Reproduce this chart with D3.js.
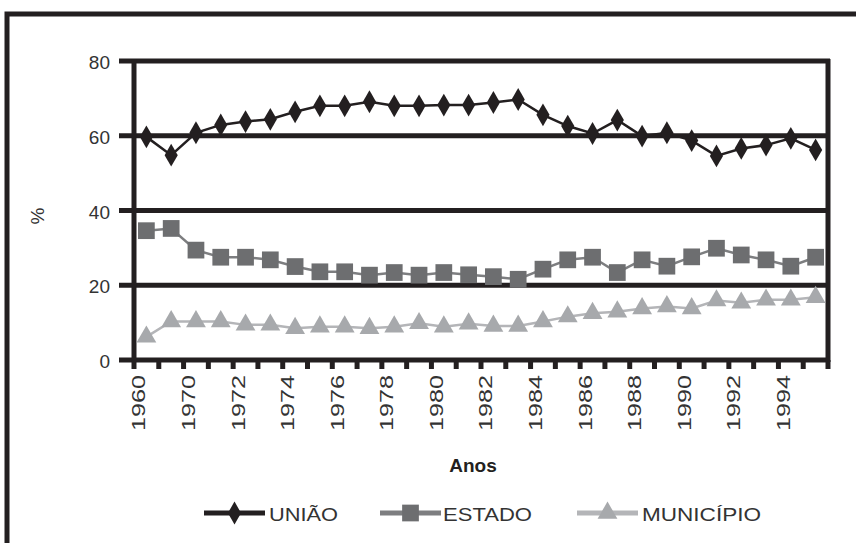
<!DOCTYPE html>
<html>
<head>
<meta charset="utf-8">
<script src="https://cdn.jsdelivr.net/npm/d3@7"></script>
<style>
  html, body { margin: 0; padding: 0; background: #fff; }
  svg { display: block; font-family: "Liberation Sans", Arial, sans-serif; }
</style>
</head>
<body>
<svg id="chart" width="856" height="543"></svg>
<script>
// Participação na receita tributária (%), por esfera de governo
const years = ["1960", "1965", "1970", "1971", "1972", "1973", "1974", "1975", "1976", "1977",
  "1978", "1979", "1980", "1981", "1982", "1983", "1984", "1985", "1986", "1987",
  "1988", "1989", "1990", "1991", "1992", "1993", "1994", "1995"];
const uniao = [59.7, 54.8, 60.8, 62.9, 63.8, 64.4, 66.4, 68.0, 68.0, 69.1,
  68.0, 68.0, 68.2, 68.2, 68.9, 69.7, 65.6, 62.6, 60.6, 64.2,
  59.9, 60.8, 58.7, 54.6, 56.6, 57.5, 59.3, 56.2];
const estado = [34.6, 35.2, 29.4, 27.5, 27.5, 26.8, 25.0, 23.6, 23.6, 22.7,
  23.4, 22.7, 23.4, 22.8, 22.3, 21.6, 24.3, 26.8, 27.5, 23.4,
  26.8, 25.1, 27.6, 29.9, 28.1, 26.8, 25.1, 27.5];
const municipio = [6.2, 10.3, 10.3, 10.3, 9.4, 9.4, 8.5, 8.9, 8.9, 8.5,
  8.9, 9.8, 8.9, 9.7, 9.1, 9.1, 10.3, 11.6, 12.5, 12.9,
  13.8, 14.3, 13.8, 15.9, 15.3, 16.1, 16.1, 16.8];
const yTicks = [0, 20, 40, 60, 80];
const seriesNames = ["UNIÃO", "ESTADO", "MUNICÍPIO"];

const ink = "#231f20";
const series = [
  { name: seriesNames[0], values: uniao, line: ink, fill: ink, symbol: d3.symbolDiamond, size: 150, lw: 2.5 },
  { name: seriesNames[1], values: estado, line: "#7d7e80", fill: "#6d6e70", symbol: d3.symbolSquare, size: 280, lw: 2.5 },
  { name: seriesNames[2], values: municipio, line: "#b4b5b8", fill: "#a7a9ac", symbol: d3.symbolTriangle, size: 170, lw: 2.5 }
];

const svg = d3.select("#chart");
const plotL = 134, plotR = 828, plotT = 61, plotB = 360;

const x = d3.scaleBand().domain(years).range([plotL, plotR]).paddingInner(0).paddingOuter(0);
const y = d3.scaleLinear().domain([0, 80]).range([plotB, plotT]);

// outer frame
svg.append("path")
  .attr("d", `M7,543 V14 H856`)
  .attr("fill", "none").attr("stroke", ink).attr("stroke-width", 5);

// horizontal grid lines with outward ticks
svg.append("g").selectAll("line").data(yTicks).join("line")
  .attr("x1", plotL - 15).attr("x2", plotR + 2)
  .attr("y1", d => y(d)).attr("y2", d => y(d))
  .attr("stroke", ink).attr("stroke-width", 5);

// left axis & right border
svg.append("line").attr("x1", plotL).attr("x2", plotL).attr("y1", plotT - 2).attr("y2", plotB + 2)
  .attr("stroke", ink).attr("stroke-width", 5);
svg.append("line").attr("x1", plotR).attr("x2", plotR).attr("y1", plotT - 2).attr("y2", plotB + 2)
  .attr("stroke", ink).attr("stroke-width", 5);

// y tick labels
const yAxis = d3.axisLeft(y).tickValues(yTicks).tickSize(0).tickPadding(0);
const gy = svg.append("g").attr("transform", `translate(${plotL - 24},0)`).call(yAxis);
gy.select(".domain").remove();
gy.selectAll("text").attr("font-size", 19).attr("fill", "#333").attr("dy", "0.4em")
  .attr("font-family", "Liberation Sans, Arial, sans-serif");

// x tick marks at band boundaries
const bounds = years.map(d => x(d)).concat([plotR]);
svg.append("g").selectAll("line").data(bounds).join("line")
  .attr("x1", d => d).attr("x2", d => d)
  .attr("y1", plotB).attr("y2", plotB + 9)
  .attr("stroke", ink).attr("stroke-width", 5);

// x labels (every other year), rotated
const xAxis = d3.axisBottom(x).tickSize(0).tickPadding(0)
  .tickFormat((d, i) => (i % 2 === 0 ? d : ""));
const gx = svg.append("g").attr("transform", `translate(0,${plotB + 15})`).call(xAxis);
gx.select(".domain").remove();
gx.selectAll("text")
  .attr("font-size", 19).attr("fill", "#333")
  .attr("font-family", "Liberation Sans, Arial, sans-serif")
  .attr("text-anchor", "end")
  .attr("transform", "rotate(-90)")
  .attr("x", 0).attr("y", 0).attr("dx", 0).attr("dy", "-0.05em")
  .each(function () { if (this.textContent) d3.select(this).attr("textLength", 56).attr("lengthAdjust", "spacingAndGlyphs"); });

// axis titles
svg.append("text").attr("transform", `translate(44,216) rotate(-90)`)
  .attr("text-anchor", "middle").attr("font-size", 19).attr("fill", "#333").text("%");
svg.append("text").attr("x", (plotL + plotR) / 2 - 8).attr("y", 472)
  .attr("text-anchor", "middle").attr("font-size", 19).attr("font-weight", "bold").attr("fill", ink).text("Anos");

// series lines and markers
const lineGen = (vals) => d3.line().x((d, i) => x(years[i]) + x.bandwidth() / 2).y(d => y(d))(vals);
series.forEach(s => {
  svg.append("path").attr("d", lineGen(s.values)).attr("fill", "none")
    .attr("stroke", s.line).attr("stroke-width", s.lw);
  svg.append("g").selectAll("path").data(s.values).join("path")
    .attr("transform", (d, i) => `translate(${x(years[i]) + x.bandwidth() / 2},${y(d)})`)
    .attr("d", d3.symbol().type(s.symbol).size(s.size))
    .attr("fill", s.fill);
});

// legend
const legendItems = [
  { s: series[0], x0: 204, x1: 265, tx: 269, tl: 69 },
  { s: series[1], x0: 380, x1: 441, tx: 443, tl: 89 },
  { s: series[2], x0: 577, x1: 638, tx: 642, tl: 119 }
];
const ly = 513;
const lg = svg.append("g");
legendItems.forEach(it => {
  lg.append("line").attr("x1", it.x0).attr("x2", it.x1).attr("y1", ly).attr("y2", ly)
    .attr("stroke", it.s.line).attr("stroke-width", 5);
  lg.append("path").attr("transform", `translate(${(it.x0 + it.x1) / 2},${ly})`)
    .attr("d", d3.symbol().type(it.s.symbol).size(it.s.size)).attr("fill", it.s.fill);
  lg.append("text").attr("x", it.tx).attr("y", ly + 8).attr("font-size", 19).attr("fill", "#333")
    .attr("textLength", it.tl).attr("lengthAdjust", "spacingAndGlyphs").text(it.s.name);
});
</script>
</body>
</html>
